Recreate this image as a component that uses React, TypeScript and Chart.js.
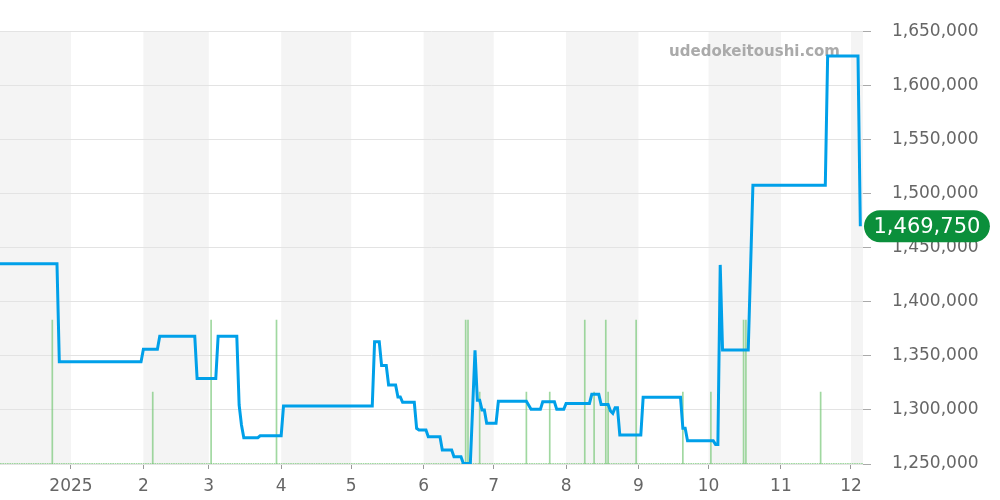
import React, { useEffect, useRef } from 'react';
import { Chart, registerables } from 'chart.js';

Chart.register(...registerables);

// ---- data ----
const priceDates = [
  '2024-12-01', '2024-12-26', '2024-12-27', '2025-01-31', '2025-02-01', '2025-02-07', '2025-02-08',
  '2025-02-23', '2025-02-24', '2025-03-04', '2025-03-05', '2025-03-13', '2025-03-14', '2025-03-15',
  '2025-03-16', '2025-03-22', '2025-03-23', '2025-04-01', '2025-04-02', '2025-05-10', '2025-05-11',
  '2025-05-13', '2025-05-14', '2025-05-16', '2025-05-17', '2025-05-20', '2025-05-21', '2025-05-22',
  '2025-05-23', '2025-05-28', '2025-05-29', '2025-05-30', '2025-06-02', '2025-06-03', '2025-06-08',
  '2025-06-09', '2025-06-13', '2025-06-14', '2025-06-17', '2025-06-18', '2025-06-21', '2025-06-23',
  '2025-06-24', '2025-06-25', '2025-06-26', '2025-06-27', '2025-06-28', '2025-07-02', '2025-07-03',
  '2025-07-15', '2025-07-17', '2025-07-21', '2025-07-22', '2025-07-27', '2025-07-28', '2025-07-31',
  '2025-08-01', '2025-08-11', '2025-08-12', '2025-08-15', '2025-08-16', '2025-08-19', '2025-08-20',
  '2025-08-21', '2025-08-22', '2025-08-23', '2025-08-24', '2025-09-02', '2025-09-03', '2025-09-19',
  '2025-09-20', '2025-09-21', '2025-09-22', '2025-10-03', '2025-10-04', '2025-10-05', '2025-10-06',
  '2025-10-07', '2025-10-18', '2025-10-20', '2025-11-20', '2025-11-21', '2025-12-04', '2025-12-05',
];
const priceValues = [
  1435000, 1435000, 1344500, 1344500, 1356000, 1356000, 1368000,
  1368000, 1329000, 1329000, 1368000, 1368000, 1304500, 1286000,
  1274300, 1274300, 1276000, 1276000, 1303500, 1303500, 1363000,
  1363000, 1341000, 1341000, 1323000, 1323000, 1312000, 1312000,
  1307000, 1307000, 1283000, 1281500, 1281500, 1275200, 1275200,
  1263000, 1263000, 1256700, 1256700, 1250500, 1250500, 1355000,
  1309000, 1309000, 1300000, 1300000, 1287600, 1287600, 1308000,
  1308000, 1300500, 1300500, 1307500, 1307500, 1300500, 1300500,
  1306000, 1306000, 1314400, 1314400, 1305100, 1305100, 1299000,
  1296800, 1302000, 1302000, 1276800, 1276800, 1311600, 1311600,
  1283000, 1283000, 1271500, 1271500, 1268100, 1268100, 1434000,
  1355300, 1355300, 1507700, 1507700, 1627000, 1627000, 1469750,
];

const volumeDates = [
  '2024-12-24', '2025-02-05', '2025-03-02', '2025-03-30', '2025-06-19', '2025-06-20', '2025-06-25',
  '2025-07-15', '2025-07-25', '2025-08-09', '2025-08-13', '2025-08-18', '2025-08-19', '2025-08-31',
  '2025-09-20', '2025-10-02', '2025-10-16', '2025-10-17', '2025-11-18',
];
const volumeValues = [2, 1, 2, 2, 2, 2, 1, 1, 1, 2, 1, 2, 1, 2, 1, 1, 2, 2, 1];

const monthStarts = [
  '2024-12-01', '2025-01-01', '2025-02-01', '2025-03-01', '2025-04-01', '2025-05-01', '2025-06-01',
  '2025-07-01', '2025-08-01', '2025-09-01', '2025-10-01', '2025-11-01', '2025-12-01', '2026-01-01',
];
const tickDates = [
  '2025-01-01', '2025-02-01', '2025-03-01', '2025-04-01', '2025-05-01', '2025-06-01',
  '2025-07-01', '2025-08-01', '2025-09-01', '2025-10-01', '2025-11-01', '2025-12-01',
];
const tickLabels = ['2025', '2', '3', '4', '5', '6', '7', '8', '9', '10', '11', '12'];

const latestPrice = 1469750;
const watermarkText = 'udedokeitoushi.com';

// ---- helpers ----
const ORIGIN = Date.UTC(2024, 11, 1);
const toDay = (s: string) => {
  const [y, m, d] = s.split('-').map(Number);
  return (Date.UTC(y, m - 1, d) - ORIGIN) / 86400000;
};
const fmt = (v: number) => Number(v).toLocaleString('en-US');

const FONT = '"DejaVu Sans", sans-serif';
const BAR_COLOR = 'rgba(120, 200, 120, 0.7)';

const decorPlugin = {
  id: 'decor',
  beforeDraw(chart: any) {
    const { ctx, chartArea, scales } = chart;
    const xs = scales.x;
    ctx.save();
    ctx.fillStyle = '#f4f4f4';
    for (let i = 0; i < monthStarts.length - 1; i += 2) {
      let a = xs.getPixelForValue(toDay(monthStarts[i]));
      let b = xs.getPixelForValue(toDay(monthStarts[i + 1]));
      a = Math.max(a, chartArea.left);
      b = Math.min(b, chartArea.right);
      if (b > a) ctx.fillRect(a, chartArea.top, b - a, chartArea.bottom - chartArea.top);
    }
    ctx.restore();
  },
  beforeDatasetsDraw(chart: any) {
    const { ctx, chartArea } = chart;
    ctx.save();
    // dotted baseline
    ctx.strokeStyle = BAR_COLOR;
    ctx.lineWidth = 1;
    ctx.setLineDash([1.7, 0.64]);
    ctx.beginPath();
    ctx.moveTo(chartArea.left, chartArea.bottom - 0.5);
    ctx.lineTo(chartArea.right, chartArea.bottom - 0.5);
    ctx.stroke();
    ctx.setLineDash([]);
    // watermark
    ctx.font = 'bold 15px ' + FONT;
    ctx.fillStyle = '#aaaaaa';
    ctx.textAlign = 'right';
    ctx.textBaseline = 'middle';
    ctx.fillText(watermarkText, 840, 52);
    ctx.restore();
  },
  afterDraw(chart: any) {
    const { ctx, chartArea, scales } = chart;
    const y = scales.y.getPixelForValue(latestPrice);
    ctx.save();
    ctx.font = '21px ' + FONT;
    const text = fmt(latestPrice);
    const tw = ctx.measureText(text).width;
    const w = tw + 19;
    const h = 32;
    const x0 = chartArea.right + 1;
    ctx.fillStyle = '#0b8f3b';
    ctx.beginPath();
    (ctx as any).roundRect(x0, y - h / 2, w, h, h / 2);
    ctx.fill();
    ctx.fillStyle = '#ffffff';
    ctx.textAlign = 'center';
    ctx.textBaseline = 'middle';
    ctx.fillText(text, x0 + w / 2, y + 1);
    ctx.restore();
  },
};

export default function App() {
  const canvasRef = useRef<HTMLCanvasElement | null>(null);

  useEffect(() => {
    if (!canvasRef.current) return;
    Chart.defaults.font.family = FONT;
    const chart = new Chart(canvasRef.current, {
      type: 'line',
      data: {
        datasets: [
          {
            type: 'line',
            data: priceDates.map((d, i) => ({ x: toDay(d), y: priceValues[i] })),
            borderColor: '#00a0e9',
            backgroundColor: '#00a0e9',
            borderWidth: 3,
            pointRadius: 0,
            tension: 0,
            fill: false,
            yAxisID: 'y',
            xAxisID: 'x',
            order: 1,
          } as any,
          {
            type: 'bar',
            data: volumeDates.map((d, i) => ({ x: toDay(d), y: volumeValues[i] })),
            backgroundColor: BAR_COLOR,
            borderWidth: 0,
            yAxisID: 'y2',
            xAxisID: 'x',
            order: 2,
          } as any,
        ],
      },
      options: {
        responsive: false,
        animation: false,
        layout: { padding: { top: 31, left: 0, right: 0, bottom: 0 } },
        plugins: { legend: { display: false }, tooltip: { enabled: false } },
        scales: {
          x: {
            type: 'linear',
            min: 0.6,
            max: 370.14,
            offset: false,
            afterBuildTicks: (s: any) => {
              s.ticks = tickDates.map((d) => ({ value: toDay(d) }));
            },
            afterFit: (s: any) => {
              s.height = 36;
            },
            grid: {
              display: true,
              drawOnChartArea: false,
              drawTicks: true,
              tickLength: 5,
              tickColor: '#999999',
              offset: false,
            },
            border: { display: false },
            ticks: {
              color: '#666666',
              font: { size: 17, family: FONT },
              padding: 7,
              maxRotation: 0,
              autoSkip: false,
              callback: (_v: any, i: number) => tickLabels[i],
            },
          },
          y: {
            type: 'linear',
            position: 'right',
            min: 1250000,
            max: 1650000,
            afterFit: (s: any) => {
              s.width = 137;
            },
            grid: { color: '#e3e3e3', tickColor: '#aaaaaa', tickLength: 8 },
            border: { display: false },
            ticks: {
              stepSize: 50000,
              color: '#666666',
              font: { size: 17, family: FONT },
              padding: 21,
              callback: (v: any) => fmt(v),
            },
          },
          y2: { type: 'linear', display: false, min: 0, max: 6 },
        },
      } as any,
      plugins: [decorPlugin],
    });
    return () => chart.destroy();
  }, []);

  return (
    <div style={{ position: 'absolute', left: 0, top: 0, width: 1000, height: 500 }}>
      <canvas ref={canvasRef} width={1000} height={500} style={{ display: 'block' }} />
    </div>
  );
}
